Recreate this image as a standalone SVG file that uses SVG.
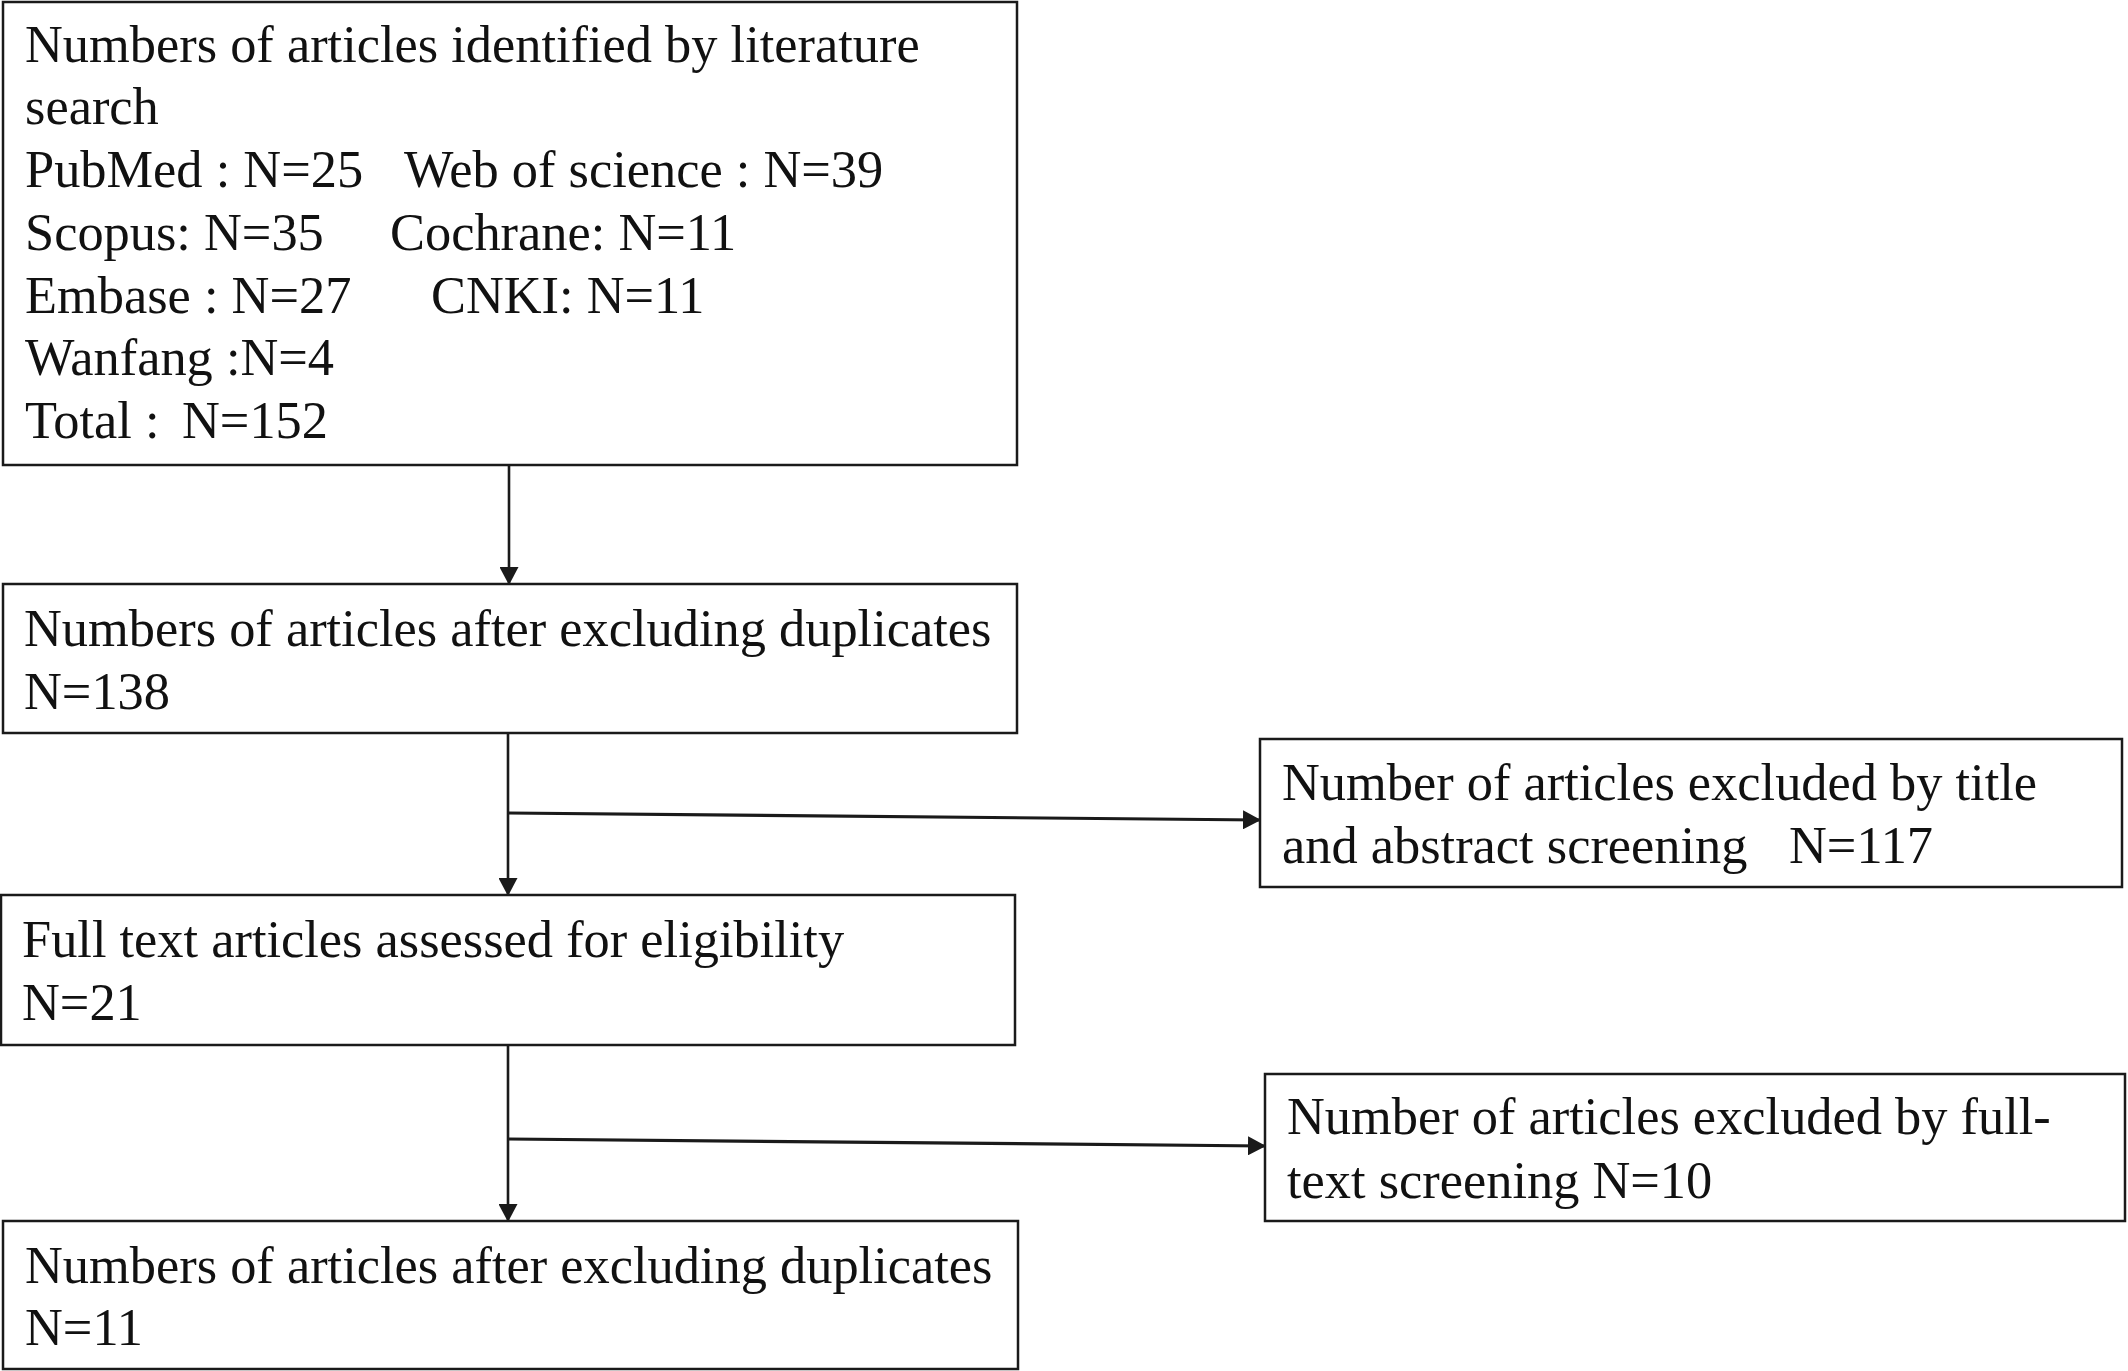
<svg xmlns="http://www.w3.org/2000/svg" width="2128" height="1371" viewBox="0 0 2128 1371">
<style>
.box{fill:#ffffff;stroke:#1a1a1a;stroke-width:2.5}
.t{font-family:"Liberation Serif","Times New Roman",serif;font-size:52.4px;fill:#111111;white-space:pre}
.c{stroke:#1a1a1a;stroke-width:2.6;fill:none}
.h{stroke-width:3.2}
</style>
<defs>
<marker id="ah" markerUnits="userSpaceOnUse" markerWidth="18" markerHeight="19" refX="17" refY="9.5" orient="auto">
<path d="M0,0 L18,9.5 L0,19 z" fill="#1a1a1a"/>
</marker>
</defs>
<rect width="2128" height="1371" fill="#ffffff"/>
<g id="connectors">
<line class="c" x1="509" y1="466" x2="509" y2="584" marker-end="url(#ah)"/>
<line class="c" x1="508" y1="733" x2="508" y2="895" marker-end="url(#ah)"/>
<line class="c h" x1="508" y1="813" x2="1260" y2="820" marker-end="url(#ah)"/>
<line class="c" x1="508" y1="1045" x2="508" y2="1221" marker-end="url(#ah)"/>
<line class="c h" x1="508" y1="1139" x2="1265" y2="1146" marker-end="url(#ah)"/>
</g>
<g id="node-search">
<rect class="box" x="3" y="2" width="1014" height="463"/>
<text class="t" x="25" y="62">Numbers of articles identified by literature</text>
<text class="t" x="25" y="124">search</text>
<text class="t" x="25" y="187">PubMed : N=25<tspan x="404">Web of science : N=39</tspan></text>
<text class="t" x="25" y="250">Scopus: N=35<tspan x="390">Cochrane: N=11</tspan></text>
<text class="t" x="25" y="313">Embase : N=27<tspan x="431">CNKI: N=11</tspan></text>
<text class="t" x="25" y="375">Wanfang :N=4</text>
<text class="t" x="25" y="438">Total :<tspan x="182">N=152</tspan></text>
</g>
<g id="node-dedup">
<rect class="box" x="3" y="584" width="1014" height="149"/>
<text class="t" x="24" y="646">Numbers of articles after excluding duplicates</text>
<text class="t" x="24" y="709">N=138</text>
</g>
<g id="node-excl-title">
<rect class="box" x="1260" y="739" width="862" height="148"/>
<text class="t" x="1282" y="800">Number of articles excluded by title</text>
<text class="t" x="1282" y="863">and abstract screening<tspan x="1789">N=117</tspan></text>
</g>
<g id="node-fulltext">
<rect class="box" x="1" y="895" width="1014" height="150"/>
<text class="t" x="22" y="957">Full text articles assessed for eligibility</text>
<text class="t" x="22" y="1020">N=21</text>
</g>
<g id="node-excl-full">
<rect class="box" x="1265" y="1074" width="860" height="147"/>
<text class="t" x="1287" y="1134">Number of articles excluded by full-</text>
<text class="t" x="1287" y="1198">text screening N=10</text>
</g>
<g id="node-final">
<rect class="box" x="3" y="1221" width="1015" height="148"/>
<text class="t" x="25" y="1283">Numbers of articles after excluding duplicates</text>
<text class="t" x="25" y="1345">N=11</text>
</g>
</svg>
